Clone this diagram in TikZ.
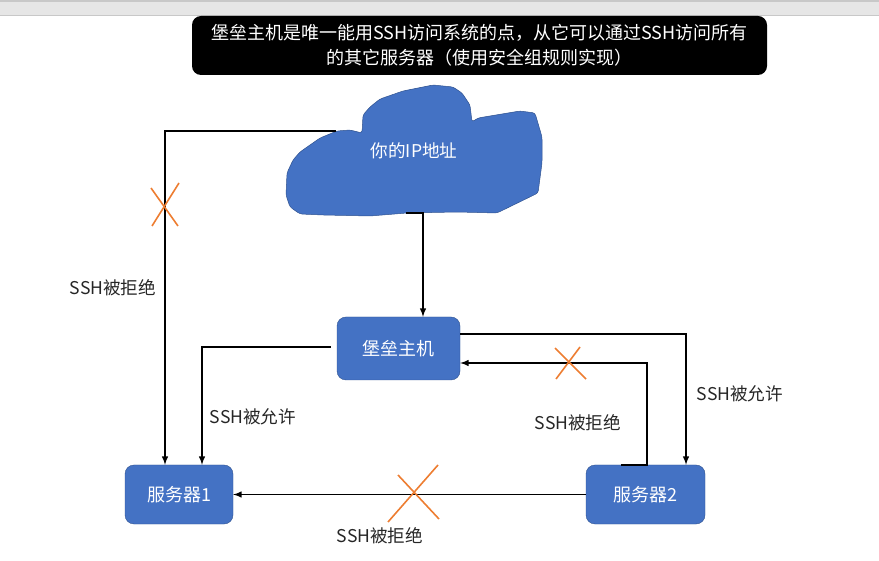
\documentclass[tikz,border=0pt]{standalone}
\usepackage{fontspec}
\setmainfont{Noto Sans CJK SC}
\definecolor{boxblue}{RGB}{68,114,196}
\definecolor{boxedge}{RGB}{47,82,143}
\definecolor{crossorange}{RGB}{237,125,49}
\definecolor{bargrey}{RGB}{230,230,230}
\definecolor{barline}{RGB}{200,200,200}
\definecolor{labelgrey}{RGB}{38,38,38}
\tikzset{
  hostbox/.style={draw=boxedge,fill=boxblue,rounded corners=9pt,text=white,inner sep=0pt,font=\fontsize{18}{22}\selectfont},
  conn/.style={line width=1.9pt,black},
  connarrow/.style={conn,-latex},
  sshlabel/.style={text=labelgrey,inner sep=0pt,font=\fontsize{17.6}{22}\selectfont},
  crossline/.style={line width=1.6pt,crossorange}
}

\begin{document}
\begin{tikzpicture}[x=1pt,y=-1pt]
    \useasboundingbox (0,0) rectangle (879,561);
    \fill[bargrey] (0,1) rectangle (879,15);
    \draw[barline,line width=1.2pt] (0,1) -- (879,1);
    \draw[barline,line width=1.2pt] (0,15.5) -- (879,15.5);

    \node[fill=black,text=white,rounded corners=9pt,minimum width=575pt,minimum height=59pt,inner sep=0pt,align=center,font=\fontsize{18}{25}\selectfont] (note) at (479.5,45.5)
      {堡垒主机是唯一能用SSH访问系统的点，从它可以通过SSH访问所有\\的其它服务器（使用安全组规则实现）};

    \fill[boxblue,draw=boxedge,line width=0.5pt,rounded corners=2.5pt] (337,131) -- (350,130) -- (362,133) -- (363,115) -- (370,107) -- (380,99) -- (403,91) -- (433,85) -- (453,87) -- (462,93) -- (470,105) -- (472,122) -- (478,118) -- (520,111) -- (535,113) -- (542,137) -- (542,163) -- (538,193) -- (497,213) -- (457,212) -- (407,213) -- (370,216) -- (323,215) -- (300,214) -- (290,207) -- (286,195) -- (287,173) -- (293,160) -- (300,152) -- (320,138) -- cycle;
    \node[text=white,inner sep=0pt,font=\fontsize{17.6}{22}\selectfont] (cloud) at (414,151) {你的IP地址};

    \node[hostbox,minimum width=123pt,minimum height=63pt] (bastion) at (398.5,348.5) {堡垒主机};
    \node[hostbox,minimum width=108pt,minimum height=59pt] (server1) at (179,494.5) {服务器1};
    \node[hostbox,minimum width=119pt,minimum height=59pt] (server2) at (645.5,494.5) {服务器2};

    \draw[connarrow] ([xshift=-78,yshift=20]cloud.center) -| ([xshift=-14]server1.north);
    \draw[connarrow] ([xshift=-8,yshift=-62]cloud.center) -| ([xshift=24.5]bastion.north);
    \draw[connarrow] ([xshift=-6,yshift=1.5]bastion.west) -| ([xshift=23]server1.north);
    \draw[connarrow] ([yshift=14.5]bastion.east) -| ([xshift=40.5]server2.north);
    \draw[connarrow] ([xshift=-24.5]server2.north) -- ([xshift=1.5]server2.north) |- ([yshift=-14.5]bastion.east);
    \draw[connarrow] (server2.west) -- (server1.east);

    \node[sshlabel] (deny1) at (113,288) {SSH被拒绝};
    \node[sshlabel] (allow1) at (253,417) {SSH被允许};
    \node[sshlabel] (deny2) at (578,423) {SSH被拒绝};
    \node[sshlabel] (allow2) at (740,394) {SSH被允许};
    \node[sshlabel] (deny3) at (380,536) {SSH被拒绝};

    \draw[crossline] (151,188) -- (178,226);
    \draw[crossline] (179,183) -- (152,226);
    \draw[crossline] (555,348) -- (586,379);
    \draw[crossline] (580,347) -- (556,379);
    \draw[crossline] (398,475) -- (439,519);
    \draw[crossline] (438,465) -- (388,522);
\end{tikzpicture}
\end{document}
